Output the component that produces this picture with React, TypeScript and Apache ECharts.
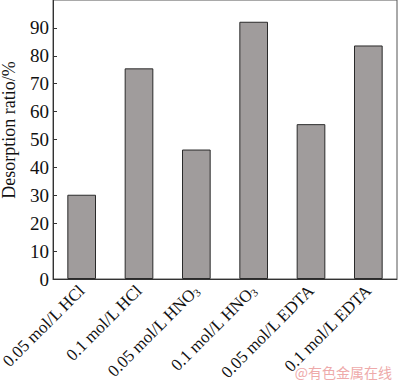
import React, { useEffect, useRef } from "react";
import * as echarts from "echarts";

const categories = [
  "0.05 mol/L HCl",
  "0.1 mol/L HCl",
  "0.05 mol/L HNO{sub|3}",
  "0.1 mol/L HNO{sub|3}",
  "0.05 mol/L EDTA",
  "0.1 mol/L EDTA",
];
const values = [30.2, 75.5, 46.4, 92.2, 55.5, 83.7];
const yTicks = { min: 0, max: 100, interval: 10 };
const yName = "Desorption ratio/%";
const watermark = "@有色金属在线";

const SERIF = "'Liberation Serif', 'DejaVu Serif', serif";

export default function App() {
  const ref = useRef<HTMLDivElement>(null);
  useEffect(() => {
    if (!ref.current) return;
    const chart = echarts.init(ref.current, null, { renderer: "svg" });
    chart.setOption({
      animation: false,
      backgroundColor: "#ffffff",
      grid: {
        left: 53,
        right: 3,
        top: 0,
        bottom: 102,
        show: true,
        borderColor: "#555",
        borderWidth: 1,
        containLabel: false,
        outerBoundsMode: "none",
      },
      xAxis: {
        type: "category",
        data: categories,
        axisLine: { lineStyle: { color: "#333", width: 1 } },
        axisTick: { show: false },
        axisLabel: {
          rotate: 45,
          margin: 9,
          interval: 0,
          fontFamily: SERIF,
          fontSize: 17,
          color: "#111",
          rich: {
            sub: { fontFamily: SERIF, fontSize: 11, color: "#111", padding: [7, 0, 0, 0] },
          },
        },
      },
      yAxis: {
        type: "value",
        min: yTicks.min,
        max: yTicks.max,
        interval: yTicks.interval,
        splitLine: { show: false },
        axisLine: { show: true, lineStyle: { color: "#333", width: 1 } },
        axisTick: { show: true, inside: true, length: 4, lineStyle: { color: "#333" } },
        axisLabel: {
          showMaxLabel: false,
          margin: 4,
          fontFamily: SERIF,
          fontSize: 19,
          color: "#111",
          formatter: (v: number) => (v >= yTicks.max ? "" : String(v)),
        },
      },
      series: [
        {
          type: "bar",
          data: values,
          barWidth: "50%",
          itemStyle: { color: "#a09c9c", borderColor: "#2a2a2a", borderWidth: 1 },
        },
      ],
      graphic: [
        {
          type: "text",
          x: 9,
          y: 130,
          rotation: Math.PI / 2,
          style: {
            text: yName,
            fontFamily: SERIF,
            fontSize: 18,
            fill: "#111",
            textAlign: "center",
            textVerticalAlign: "middle",
          },
        },
        {
          type: "text",
          right: 8,
          bottom: 2,
          style: {
            text: watermark,
            fontFamily: "'Noto Sans CJK SC', sans-serif",
            fontSize: 14,
            fill: "#eeaaaa",
          },
        },
      ],
    });
    return () => chart.dispose();
  }, []);
  return <div ref={ref} style={{ width: 400, height: 381, position: "absolute", left: 0, top: 0 }} />;
}
